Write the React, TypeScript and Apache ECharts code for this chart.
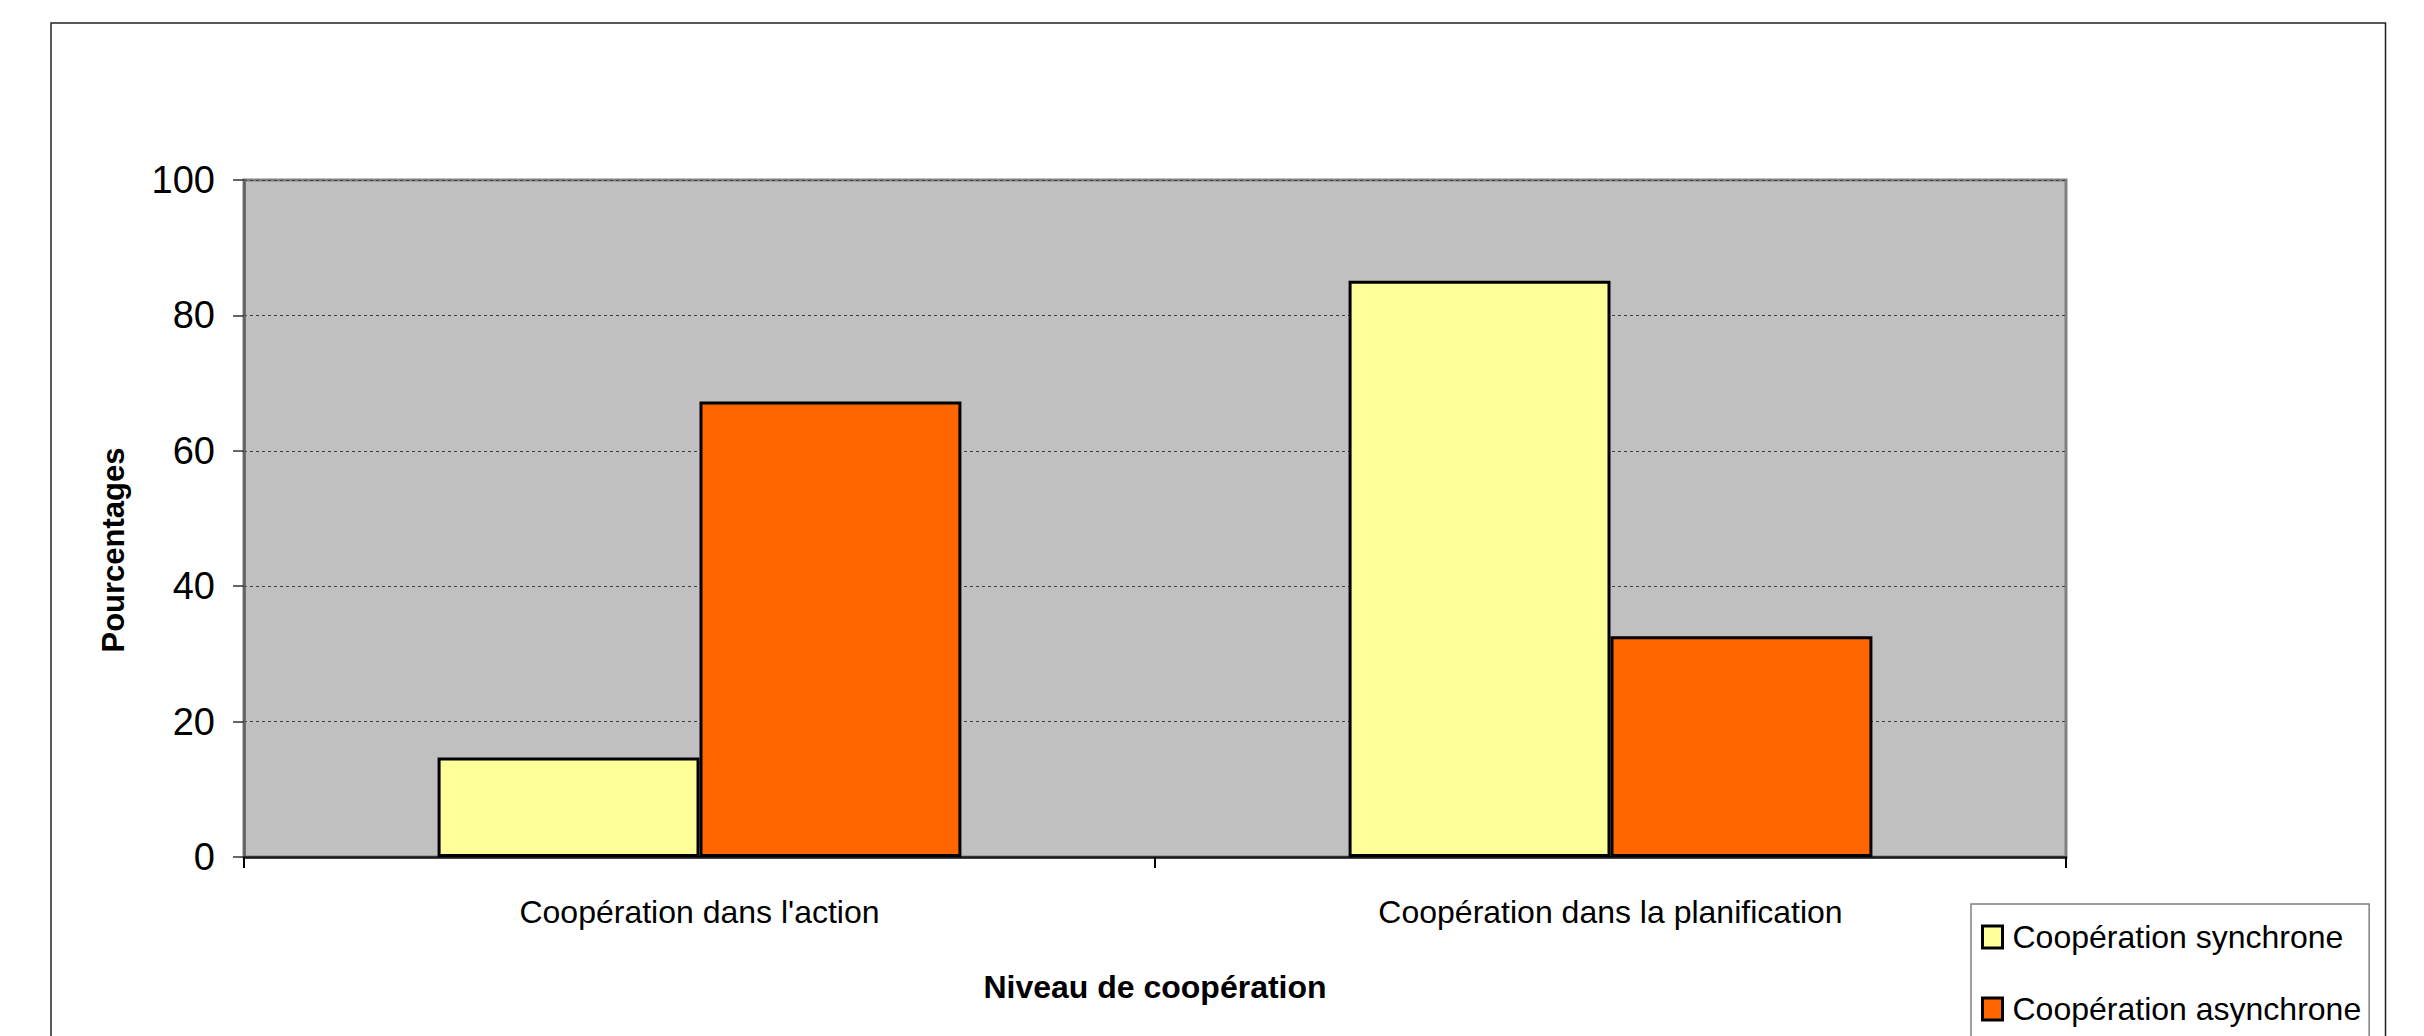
import React, { useEffect, useRef } from "react";
import * as echarts from "echarts";

const categories = ["Coopération dans l'action", "Coopération dans la planification"];
const seriesNames = ["Coopération synchrone", "Coopération asynchrone"];
const synchroneValues = [14.7, 85.1];
const asynchroneValues = [67.3, 32.6];
const yTicks = { min: 0, max: 100, interval: 20 };
const xAxisTitle = "Niveau de coopération";
const yAxisTitle = "Pourcentages";

const NARROW = "'Liberation Sans Narrow', 'Arial Narrow', 'Liberation Sans', Arial, sans-serif";
const SANS = "'Liberation Sans', Arial, sans-serif";

export default function App() {
  const ref = useRef<HTMLDivElement>(null);
  useEffect(() => {
    if (!ref.current) return;
    const chart = echarts.init(ref.current, undefined, { renderer: "svg" });
    chart.setOption({
      animation: false,
      backgroundColor: "#ffffff",
      grid: {
        left: 244,
        top: 180,
        width: 1822,
        height: 677,
        show: true,
        backgroundColor: "#C0C0C0",
        borderColor: "#808080",
        borderWidth: 3,
      },
      legend: {
        orient: "vertical",
        left: 1971,
        top: 904,
        height: 200,
        padding: [17, 8, 30, 10],
        icon: "rect",
        itemWidth: 20,
        itemHeight: 22,
        itemGap: 40,
        itemStyle: { borderColor: "#000", borderWidth: 3 },
        borderColor: "#808080",
        borderWidth: 1.5,
        backgroundColor: "#ffffff",
        textStyle: { fontFamily: NARROW, fontSize: 32, color: "#000", padding: [0, 0, 0, 5] },
        data: seriesNames,
      },
      xAxis: {
        type: "category",
        data: categories,
        name: xAxisTitle,
        nameLocation: "middle",
        nameGap: 113,
        nameTextStyle: { fontFamily: SANS, fontSize: 32, fontWeight: "bold", color: "#000", lineHeight: 34 },
        axisLine: { lineStyle: { color: "#1a1a1a", width: 2.5 } },
        axisTick: { show: true, length: 11, lineStyle: { color: "#000", width: 2 } },
        axisLabel: { fontFamily: NARROW, fontSize: 32, color: "#000", margin: 37, lineHeight: 36 },
        splitLine: { show: false },
      },
      yAxis: {
        type: "value",
        min: yTicks.min,
        max: yTicks.max,
        interval: yTicks.interval,
        axisLine: { show: true, lineStyle: { color: "#606060", width: 2.5 } },
        axisTick: { show: true, length: 11, lineStyle: { color: "#333", width: 1.5 } },
        axisLabel: { fontFamily: NARROW, fontSize: 38, color: "#000", margin: 29 },
        splitLine: { show: true, lineStyle: { color: "#404040", width: 1, type: [3, 3] } },
      },
      graphic: [
        {
          type: "rect",
          shape: { x: 51, y: 23, width: 2334.5, height: 1100 },
          style: { fill: "none", stroke: "#222", lineWidth: 1.5 },
          silent: true,
          z: -1,
        },
        {
          type: "text",
          x: 113,
          y: 550,
          rotation: Math.PI / 2,
          style: {
            text: yAxisTitle,
            fontFamily: SANS,
            fontSize: 31,
            fontWeight: "bold",
            fill: "#000",
            align: "center",
            verticalAlign: "middle",
          },
        },
      ],
      series: [
        {
          name: seriesNames[0],
          type: "bar",
          data: synchroneValues,
          barGap: "0%",
          barCategoryGap: "42.5%",
          itemStyle: { color: "#FFFF99", borderColor: "#000", borderWidth: 3 },
        },
        {
          name: seriesNames[1],
          type: "bar",
          data: asynchroneValues,
          barGap: "0%",
          barCategoryGap: "42.5%",
          itemStyle: { color: "#FF6600", borderColor: "#000", borderWidth: 3 },
        },
      ],
    });
    return () => chart.dispose();
  }, []);
  return (
    <div
      ref={ref}
      style={{ position: "fixed", left: 0, top: 0, width: 2424, height: 1036, overflow: "hidden" }}
    />
  );
}
